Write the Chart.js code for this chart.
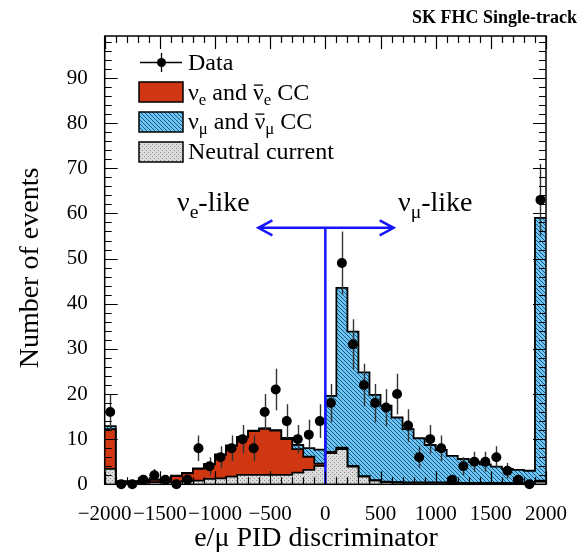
<!DOCTYPE html>
<html lang="en">
<head>
<meta charset="UTF-8">
<title>SK FHC Single-track: e/mu PID discriminator</title>
<script src="https://cdn.jsdelivr.net/npm/chart.js"></script>
<style>
  html, body { margin: 0; padding: 0; background: #fff; }
  canvas { display: block; }
</style>
</head>
<body>
<canvas id="pidChart" width="585" height="555"></canvas>
<script>
// histogram bin edges (e/mu PID discriminator)
const binEdges = [-2000, -1900, -1800, -1700, -1600, -1500, -1400, -1300, -1200, -1100,
                  -1000, -900, -800, -700, -600, -500, -400, -300, -200, -100,
                  0, 100, 200, 300, 400, 500, 600, 700, 800, 900,
                  1000, 1100, 1200, 1300, 1400, 1500, 1600, 1700, 1800, 1900, 2000];

// expected events per bin, by interaction type
const ncEvents = [3.4, 0.3, 0.3, 0.4, 0.5, 0.5, 0.6, 0.7, 0.8, 1.2,
                  1.3, 1.7, 2.1, 2.1, 2.1, 2.1, 2.1, 2.6, 3.2, 4.1,
                  6.9, 7.8, 3.9, 1.7, 0.8, 0.5, 0.4, 0.3, 0.3, 0.3,
                  0.3, 0.2, 0.2, 0.2, 0.2, 0.2, 0.2, 0.2, 0.2, 0.6];
const nueEvents = [8.8, 0.3, 0.3, 0.3, 0.5, 0.5, 1.2, 1.7, 2.6, 3.2,
                   5.2, 6.8, 8.3, 9.7, 10.2, 9.8, 7.9, 5.2, 2.9, 0.5,
                   0.3, 0.3, 0.2, 0.1, 0.1, 0.1, 0.1, 0.1, 0.1, 0.1,
                   0.1, 0.1, 0.1, 0.1, 0.1, 0.1, 0.1, 0.1, 0.1, 0.2];
const numuEvents = [0.7, 0.1, 0.1, 0.1, 0.1, 0.1, 0.1, 0.1, 0.1, 0.1,
                    0.1, 0.1, 0.1, 0.1, 0.1, 0.1, 0.3, 0.9, 1.9, 3.1,
                    12.4, 35.4, 29.7, 23.0, 18.9, 16.8, 14.3, 11.8, 9.8, 8.3,
                    7.2, 6.0, 5.3, 4.7, 4.1, 3.6, 3.1, 2.9, 2.7, 58.2];

// observed events per bin
const dataEvents = [16, 0, 0, 1, 2, 1, 0, 1, 8, 4,
                    6, 8, 10, 8, 16, 21, 14, 10, 11, 14,
                    18, 49, 31, 22, 18, 17, 20, 13, 6, 10,
                    8, 1, 4, 5, 5, 6, 3, 1, 0, 63];

const xTicks = [-2000, -1500, -1000, -500, 0, 500, 1000, 1500, 2000];
const yTicks = [0, 10, 20, 30, 40, 50, 60, 70, 80, 90];

// selection cut and arrow drawn across it
const cutValue = 0;
const arrowLevel = 56.8;
const arrowFrom = -607;
const arrowTo = 619;

const SERIF = '"Liberation Serif", "DejaVu Serif", serif';

function hatchPattern(bg, fg, size) {
  const c = document.createElement('canvas');
  c.width = c.height = size;
  const g = c.getContext('2d');
  g.fillStyle = bg;
  g.fillRect(0, 0, size, size);
  g.strokeStyle = fg;
  g.lineWidth = 1;
  g.beginPath();
  g.moveTo(-1, -1); g.lineTo(size + 1, size + 1);
  g.moveTo(-1, size - 1); g.lineTo(1, size + 1);
  g.moveTo(size - 1, -1); g.lineTo(size + 1, 1);
  g.stroke();
  return g.createPattern(c, 'repeat');
}

function dotPattern(bg, fg) {
  const c = document.createElement('canvas');
  c.width = c.height = 4;
  const g = c.getContext('2d');
  g.fillStyle = bg;
  g.fillRect(0, 0, 4, 4);
  g.fillStyle = fg;
  g.fillRect(0, 0, 1, 1);
  g.fillRect(2, 2, 1, 1);
  return g.createPattern(c, 'repeat');
}

const redFill = '#cf3612';
const blueFill = hatchPattern('#6cc6ef', '#1d568e', 4);
const grayFill = dotPattern('#dcdcdc', '#8c8c8c');

// stacked totals: NC, NC + nue, NC + nue + numu
const stackNC = ncEvents.slice();
const stackNue = ncEvents.map((v, i) => v + nueEvents[i]);
const stackAll = stackNue.map((v, i) => v + numuEvents[i]);

function histPoints(vals) {
  const pts = vals.map((v, i) => ({ x: binEdges[i], y: v }));
  pts.push({ x: binEdges[binEdges.length - 1], y: vals[vals.length - 1] });
  return pts;
}

const binCenters = dataEvents.map((_, i) => (binEdges[i] + binEdges[i + 1]) / 2);

function histDataset(vals, fill) {
  return {
    data: histPoints(vals),
    stepped: 'before',
    fill: 'origin',
    backgroundColor: fill,
    borderColor: '#000',
    borderWidth: 1.8,
    pointRadius: 0,
    tension: 0
  };
}

const errorBars = {
  id: 'errorBars',
  beforeDatasetDraw(chart, args) {
    if (args.index !== 0) return;
    const { ctx, scales: { x, y }, chartArea: a } = chart;
    ctx.save();
    ctx.beginPath();
    ctx.rect(a.left, a.top, a.right - a.left, a.bottom - a.top);
    ctx.clip();
    ctx.strokeStyle = '#333';
    ctx.lineWidth = 1.4;
    ctx.beginPath();
    dataEvents.forEach((n, i) => {
      if (n <= 0) return;
      const px = Math.round(x.getPixelForValue(binCenters[i])) + 0.5;
      const e = Math.sqrt(n);
      ctx.moveTo(px, y.getPixelForValue(n - e));
      ctx.lineTo(px, y.getPixelForValue(n + e));
    });
    ctx.stroke();
    ctx.restore();
  }
};

function richText(ctx, x, y, parts, size) {
  for (const p of parts) {
    const fs = p.sub ? size * 0.7 : size;
    ctx.font = fs + 'px ' + SERIF;
    const dy = p.sub ? size * 0.24 : 0;
    ctx.fillText(p.t, x, y + dy);
    const w = ctx.measureText(p.t).width;
    if (p.bar) {
      ctx.save();
      ctx.lineWidth = 1.3;
      ctx.beginPath();
      ctx.moveTo(x + 1, y - size * 0.6);
      ctx.lineTo(x + w - 1, y - size * 0.6);
      ctx.stroke();
      ctx.restore();
    }
    x += w;
  }
  return x;
}

const decorations = {
  id: 'decorations',
  afterDatasetsDraw(chart) {
    const { ctx, chartArea: a, scales: { x, y } } = chart;
    ctx.save();

    // selection cut with double arrow
    const cx = x.getPixelForValue(cutValue);
    const ay = y.getPixelForValue(arrowLevel);
    const x1 = x.getPixelForValue(arrowFrom);
    const x2 = x.getPixelForValue(arrowTo);
    ctx.strokeStyle = '#1414ff';
    ctx.lineWidth = 2.5;
    ctx.beginPath();
    ctx.moveTo(cx, y.getPixelForValue(0));
    ctx.lineTo(cx, ay);
    ctx.moveTo(x1, ay);
    ctx.lineTo(x2, ay);
    ctx.moveTo(x1 + 14, ay - 7.5); ctx.lineTo(x1, ay); ctx.lineTo(x1 + 14, ay + 7.5);
    ctx.moveTo(x2 - 14, ay - 7.5); ctx.lineTo(x2, ay); ctx.lineTo(x2 - 14, ay + 7.5);
    ctx.stroke();

    // frame with inward ticks on all four sides
    ctx.strokeStyle = '#000';
    ctx.lineWidth = 1.5;
    ctx.strokeRect(a.left, a.top, a.right - a.left, a.bottom - a.top);
    ctx.lineWidth = 1.2;
    ctx.beginPath();
    for (let v = -2000; v <= 2000; v += 100) {
      const px = Math.round(x.getPixelForValue(v)) + 0.5;
      const len = v % 500 === 0 ? 13 : 7;
      ctx.moveTo(px, a.bottom); ctx.lineTo(px, a.bottom - len);
      ctx.moveTo(px, a.top); ctx.lineTo(px, a.top + len);
    }
    for (let v = 0; v <= 98; v += 2) {
      const py = Math.round(y.getPixelForValue(v)) + 0.5;
      const len = v % 10 === 0 ? 13 : 7;
      ctx.moveTo(a.left, py); ctx.lineTo(a.left + len, py);
      ctx.moveTo(a.right, py); ctx.lineTo(a.right - len, py);
    }
    ctx.stroke();
    ctx.restore();
  },
  afterDraw(chart) {
    const { ctx } = chart;
    ctx.save();
    ctx.fillStyle = '#000';
    ctx.strokeStyle = '#000';
    ctx.textBaseline = 'alphabetic';

    // title
    ctx.font = 'bold 18px ' + SERIF;
    ctx.textAlign = 'right';
    ctx.fillText('SK FHC Single-track', 577, 23);
    ctx.textAlign = 'left';

    // axis titles
    ctx.font = '28px ' + SERIF;
    ctx.textAlign = 'center';
    ctx.fillText('e/\u03bc PID discriminator', 316, 546);
    ctx.save();
    ctx.translate(38, 268);
    ctx.rotate(-Math.PI / 2);
    ctx.fillText('Number of events', 0, 0);
    ctx.restore();
    ctx.textAlign = 'left';

    // region labels
    richText(ctx, 177, 211, [{ t: '\u03bd' }, { t: 'e', sub: true }, { t: '-like' }], 28);
    richText(ctx, 398, 211, [{ t: '\u03bd' }, { t: '\u03bc', sub: true }, { t: '-like' }], 28);

    // legend
    const lx = 139, lw = 44, tx = 188, fs = 24;
    ctx.lineWidth = 1.3;
    ctx.beginPath();
    ctx.moveTo(lx + 1, 62.5); ctx.lineTo(lx + lw - 1, 62.5);
    ctx.moveTo(161.5, 53); ctx.lineTo(161.5, 72);
    ctx.stroke();
    ctx.beginPath();
    ctx.arc(161.5, 62.5, 4.5, 0, Math.PI * 2);
    ctx.fill();
    ctx.font = fs + 'px ' + SERIF;
    ctx.fillText('Data', tx, 69.5);

    const rows = [
      { top: 82, fill: redFill, base: 99.5,
        parts: [{ t: '\u03bd' }, { t: 'e', sub: true }, { t: ' and ' }, { t: '\u03bd', bar: true }, { t: 'e', sub: true }, { t: ' CC' }] },
      { top: 112, fill: blueFill, base: 128.5,
        parts: [{ t: '\u03bd' }, { t: '\u03bc', sub: true }, { t: ' and ' }, { t: '\u03bd', bar: true }, { t: '\u03bc', sub: true }, { t: ' CC' }] },
      { top: 142, fill: grayFill, base: 159,
        parts: [{ t: 'Neutral current' }] }
    ];
    rows.forEach(r => {
      ctx.fillStyle = r.fill;
      ctx.fillRect(lx, r.top, lw, 20);
      ctx.lineWidth = 1.5;
      ctx.strokeRect(lx, r.top, lw, 20);
      ctx.fillStyle = '#000';
      richText(ctx, tx, r.base, r.parts, fs);
    });
    ctx.restore();
  }
};

const ctx = document.getElementById('pidChart').getContext('2d');
const chart = new Chart(ctx, {
  type: 'line',
  data: {
    datasets: [
      {
        type: 'scatter',
        data: dataEvents.map((n, i) => ({ x: binCenters[i], y: n })),
        showLine: false,
        pointRadius: 5,
        pointBackgroundColor: '#000',
        pointBorderWidth: 0,
        clip: false
      },
      histDataset(stackNC, grayFill),
      histDataset(stackNue, redFill),
      histDataset(stackAll, blueFill)
    ]
  },
  options: {
    responsive: false,
    animation: false,
    events: [],
    layout: { padding: { left: 0, right: 39, top: 36, bottom: 0 } },
    plugins: { legend: { display: false }, tooltip: { enabled: false } },
    scales: {
      x: {
        type: 'linear',
        min: -2000,
        max: 2000,
        grid: { display: false },
        border: { display: false },
        afterBuildTicks: s => { s.ticks = xTicks.map(v => ({ value: v })); },
        afterFit: s => { s.height = 70.7; },
        ticks: {
          autoSkip: false,
          maxRotation: 0,
          minRotation: 0,
          padding: 10,
          color: '#000',
          font: { family: SERIF, size: 21 },
          callback: v => String(v).replace('-', '\u2212')
        }
      },
      y: {
        min: 0,
        max: 99.3,
        grid: { display: false },
        border: { display: false },
        afterBuildTicks: s => { s.ticks = yTicks.map(v => ({ value: v })); },
        afterFit: s => { s.width = 104.7; },
        ticks: {
          padding: 9,
          color: '#000',
          font: { family: SERIF, size: 21 },
          callback: v => String(v)
        }
      }
    }
  },
  plugins: [errorBars, decorations]
});
</script>
</body>
</html>
